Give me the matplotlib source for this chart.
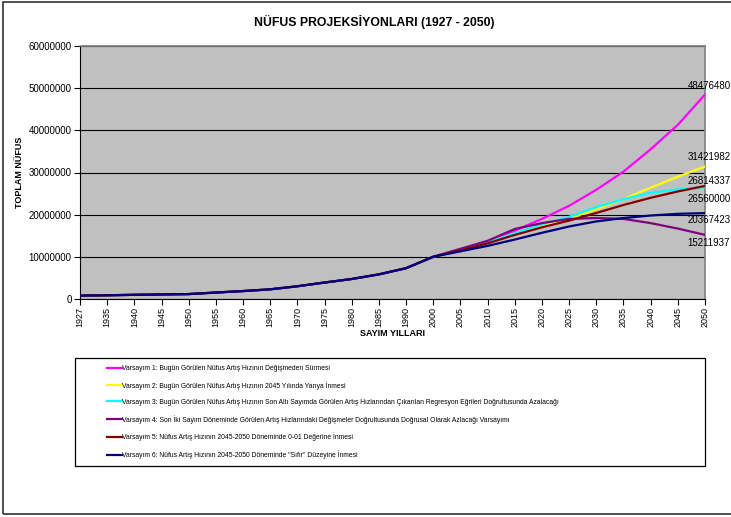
import matplotlib
matplotlib.use("Agg")
import matplotlib.pyplot as plt
from matplotlib.patches import Rectangle
from matplotlib.lines import Line2D

plt.rcParams['font.family'] = ['Liberation Sans', 'DejaVu Sans']

# census years (categorical axis) and observed population
years = ["1927", "1935", "1940", "1945", "1950", "1955", "1960", "1965", "1970",
         "1975", "1980", "1985", "1990", "2000", "2005", "2010", "2015", "2020",
         "2025", "2030", "2035", "2040", "2045", "2050"]
history = [806863, 883599, 991237, 1078399, 1166477, 1533822, 1882092, 2293823,
           3019032, 3904588, 4741890, 5842985, 7309190, 10018735]

# projections 2005-2050 for each scenario
v1 = [11800000, 13700000, 16200000, 19000000, 22100000, 25900000, 30200000,
      35500000, 41300000, 48476480]
v2 = [11600000, 13400000, 15500000, 17400000, 19100000, 21300000, 23700000,
      26400000, 29000000, 31421982]
v3 = [11600000, 13400000, 15600000, 17700000, 19500000, 21800000, 23700000,
      25200000, 26000000, 26560000]
v4 = [11900000, 13800000, 16600000, 18000000, 19000000, 19200000, 19000000,
      18000000, 16700000, 15211937]
v5 = [11500000, 13200000, 15200000, 17000000, 18600000, 20400000, 22300000,
      24000000, 25500000, 26814337]
v6 = [11300000, 12600000, 14100000, 15700000, 17200000, 18400000, 19200000,
      19800000, 20200000, 20367423]

labels = [
    "Varsayım 1: Bugün Görülen Nüfus Artış Hızının Değişmeden Sürmesi",
    "Varsayım 2: Bugün Görülen Nüfus Artış Hızının 2045 Yılında Yarıya İnmesi",
    "Varsayım 3: Bugün Görülen Nüfus Artış Hızının Son Altı Sayımda Görülen Artış "
    "Hızlarından Çıkarılan Regresyon Eğrileri Doğrultusunda Azalacağı",
    "Varsayım 4: Son İki Sayım Döneminde Görülen Artış Hızlarındaki Değişmeler "
    "Doğrultusunda Doğrusal Olarak Azlacağı Varsayımı",
    "Varsayım 5: Nüfus Artış Hızının 2045-2050 Döneminde 0-01 Değerine İnmesi",
    'Varsayım 6: Nüfus Artış Hızının 2045-2050 Döneminde "Sıfır" Düzeyine İnmesi',
]
colors = ["#FF00FF", "#FFFF00", "#00FFFF", "#800080", "#800000", "#000080"]
scenarios = [v1, v2, v3, v4, v5, v6]
# vertical offsets (points) of the end-value labels
label_dy = [6.5, 7, -8.6, -5.8, 3.6, -5]

W, H = 731, 517
fig = plt.figure(figsize=(W / 100, H / 100), dpi=100)
ax = fig.add_axes([80 / W, 1 - 299 / H, 625 / W, 253 / H])
ax.set_facecolor("#C0C0C0")

x = list(range(len(years)))
handles = []
for vals, c, lab, dy in zip(scenarios, colors, labels, label_dy):
    series = history + vals
    ax.plot(x, series, color=c, lw=1.6, solid_joinstyle="round", zorder=3)
    handles.append(Line2D([], [], color=c, lw=1.6))
    ax.annotate(str(vals[-1]), xy=(x[-1], vals[-1]), xytext=(-12.5, dy),
                textcoords="offset points", fontsize=7, ha="left", va="center",
                color="#000000", annotation_clip=False)

ax.set_xlim(0, len(years) - 1)
ax.set_ylim(0, 60000000)
ax.set_yticks(range(0, 60000001, 10000000))
ax.set_yticklabels([str(v) for v in range(0, 60000001, 10000000)], fontsize=7)
ax.set_xticks(x)
ax.set_xticklabels(years, rotation=90, fontsize=6.5)
ax.tick_params(axis="both", direction="out", length=4, width=0.8, pad=2, colors="black")
ax.yaxis.grid(True, color="#000000", lw=0.8)
ax.set_axisbelow(True)
for side in ("top", "right"):
    ax.spines[side].set_color("#808080")
    ax.spines[side].set_linewidth(1.2)
for side in ("left", "bottom"):
    ax.spines[side].set_color("black")
    ax.spines[side].set_linewidth(0.8)

fig.text(374 / W, 1 - 22 / H, "NÜFUS PROJEKSİYONLARI (1927 - 2050)", fontsize=8.8,
         fontweight="bold", ha="center", va="center")
fig.text(392 / W, 1 - 333 / H, "SAYIM YILLARI", fontsize=6.5, fontweight="bold",
         ha="center", va="center")
fig.text(20 / W, 1 - 172 / H, "TOPLAM NÜFUS", fontsize=6.5, fontweight="bold",
         ha="center", va="center", rotation=90)

# legend box and outer frame
fig.add_artist(Rectangle((75 / W, 1 - 466 / H), 630 / W, 108 / H, transform=fig.transFigure,
                         facecolor="white", edgecolor="black", lw=0.9, zorder=1))
fig.add_artist(Rectangle((3 / W, 1 - 514 / H), 740 / W, 512 / H, transform=fig.transFigure,
                         facecolor="none", edgecolor="#333333", lw=1.2, zorder=1))
fig.legend(handles, labels, loc="upper left", bbox_to_anchor=(107 / W, 1 - 365 / H),
           frameon=False, fontsize=4.85, handlelength=2.2, handletextpad=0.1,
           labelspacing=1.33, borderaxespad=0, borderpad=0)

fig.savefig("out.png", dpi=100)
